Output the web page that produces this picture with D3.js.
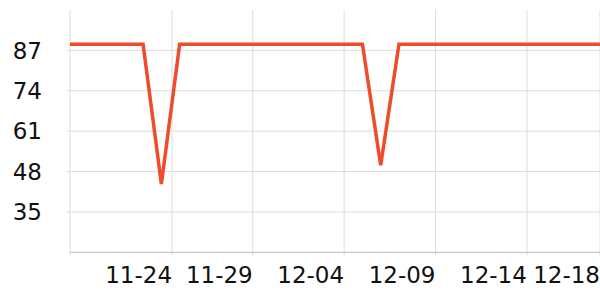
<!DOCTYPE html>
<html>
<head>
<meta charset="utf-8">
<script src="https://cdn.jsdelivr.net/npm/d3@7/dist/d3.min.js"></script>
<style>
  html, body { margin: 0; padding: 0; background: #fff; }
  svg { display: block; font-family: "DejaVu Sans", sans-serif; }
</style>
</head>
<body>
<div id="chart"></div>
<script>
// datos
const dates = [
  "2023-11-19", "2023-11-20", "2023-11-21", "2023-11-22", "2023-11-23",
  "2023-11-24", "2023-11-25", "2023-11-26", "2023-11-27", "2023-11-28",
  "2023-11-29", "2023-11-30", "2023-12-01", "2023-12-02", "2023-12-03",
  "2023-12-04", "2023-12-05", "2023-12-06", "2023-12-07", "2023-12-08",
  "2023-12-09", "2023-12-10", "2023-12-11", "2023-12-12", "2023-12-13",
  "2023-12-14", "2023-12-15", "2023-12-16", "2023-12-17", "2023-12-18"
];
const values = [
  89, 89, 89, 89, 89,
  44, 89, 89, 89, 89,
  89, 89, 89, 89, 89,
  89, 89, 50, 89, 89,
  89, 89, 89, 89, 89,
  89, 89, 89, 89, 89
];
const xTickDates = ["2023-11-19", "2023-11-24T14:00", "2023-11-29", "2023-12-04", "2023-12-09", "2023-12-14", "2023-12-18"];
const xTickLabels = ["", "11-24", "11-29", "12-04", "12-09", "12-14", "12-18"];
const yTicks = [35, 48, 61, 74, 87];
const yDomain = [22, 100];

const width = 600, height = 300;
const margin = { top: 10, right: 0, bottom: 47.7, left: 70 };
const parse = d3.isoParse;

const svg = d3.select('#chart').append('svg')
  .attr('width', width)
  .attr('height', height);

const x = d3.scaleTime()
  .domain([parse(dates[0]), parse(dates[dates.length - 1])])
  .range([margin.left, width - margin.right]);

const y = d3.scaleLinear()
  .domain(yDomain)
  .range([height - margin.bottom, margin.top]);

// rejilla horizontal
svg.append('g')
  .selectAll('line')
  .data(yTicks)
  .join('line')
  .attr('x1', margin.left - 3)
  .attr('x2', width - margin.right)
  .attr('y1', d => y(d))
  .attr('y2', d => y(d))
  .attr('stroke', '#dcdcdc')
  .attr('stroke-width', 1);

// rejilla vertical
const xt = xTickDates.map(parse);
svg.append('g')
  .selectAll('line')
  .data(xt)
  .join('line')
  .attr('x1', d => x(d))
  .attr('x2', d => x(d))
  .attr('y1', margin.top)
  .attr('y2', height - margin.bottom + 3)
  .attr('stroke', '#dcdcdc')
  .attr('stroke-width', 1);

// eje inferior
svg.append('line')
  .attr('x1', margin.left)
  .attr('x2', width - margin.right)
  .attr('y1', y(yDomain[0]))
  .attr('y2', y(yDomain[0]))
  .attr('stroke', '#bdbdbd')
  .attr('stroke-width', 1);

// etiquetas eje y
svg.append('g')
  .selectAll('text')
  .data(yTicks)
  .join('text')
  .attr('x', 42)
  .attr('y', d => y(d))
  .attr('dy', '0.36em')
  .attr('text-anchor', 'end')
  .attr('font-size', 23)
  .attr('fill', '#111')
  .text(d => d);

// etiquetas eje x
svg.append('g')
  .selectAll('text')
  .data(xt)
  .join('text')
  .attr('x', d => x(d))
  .attr('y', height - margin.bottom + 31)
  .attr('text-anchor', 'end')
  .attr('font-size', 23)
  .attr('fill', '#111')
  .text((d, i) => xTickLabels[i]);

// serie
const line = d3.line()
  .x((d, i) => x(parse(dates[i])))
  .y(d => y(d));

svg.append('path')
  .datum(values)
  .attr('d', line)
  .attr('fill', 'none')
  .attr('stroke', '#ef4b2c')
  .attr('stroke-width', 3.5);
</script>
</body>
</html>
